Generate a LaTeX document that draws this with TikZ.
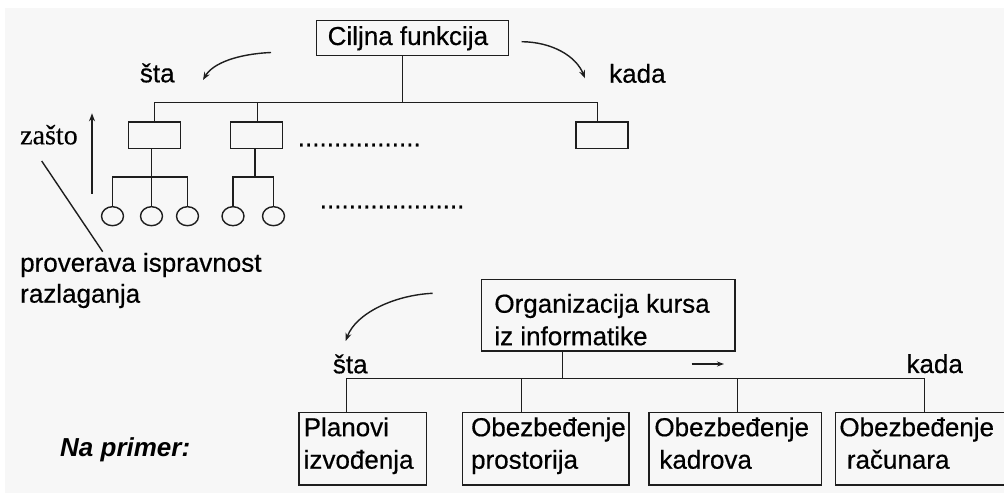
\documentclass[tikz,border=0pt]{standalone}
\usepackage{fontspec}
\setmainfont{Liberation Sans}[FakeBold=0.5]
\newfontfamily\romanfam{Liberation Serif}[FakeBold=0.3]
\newfontfamily\examplefam{Liberation Sans}
\usetikzlibrary{arrows.meta,shapes.geometric}
\definecolor{paper}{HTML}{F7F7F7}
\definecolor{ink}{HTML}{1E1E1E}
\hfuzz=60pt
\begin{document}
\begin{tikzpicture}[x=1bp,y=-1bp,
  every node/.style={font=\fontsize{26bp}{32.5bp}\selectfont, text=black},
  conn/.style={draw=ink, line width=1.4bp},
  tip/.style={-{Stealth[length=8bp,width=6bp]}},
  labbox/.style={draw=ink, line width=1.4bp, anchor=north west, inner ysep=0pt},
  minibox/.style={draw=ink, line width=1.4bp, minimum width=52bp, minimum height=26.5bp, inner sep=0pt},
  leaf/.style={ellipse, draw=ink, line width=1.4bp, minimum width=22bp, minimum height=19bp, inner sep=0pt},
  word/.style={anchor=base west, inner sep=0pt},
]
% page and background
\useasboundingbox (0,0) rectangle (1004,493);
\fill[white] (0,0) rectangle (1004,493);
\fill[paper] (5,8) rectangle (1004,493);

% ---------- general scheme ----------
\node[labbox, inner xsep=11bp, text height=24.3bp, text depth=10.7bp] (cilj) at (316,20)
  {\parbox[t]{169.7bp}{Ciljna funkcija}};

\node[minibox] (b1) at (154.2,135.3) {};
\node[minibox] (b2) at (256.5,135.3) {};
\node[minibox] (b3) at (602,135.3) {};

\node[leaf] (c1) at (112.5,216.2) {};
\node[leaf] (c2) at (151.5,216.2) {};
\node[leaf] (c3) at (187.5,216.2) {};
\node[leaf] (c4) at (233,216.2) {};
\node[leaf] (c5) at (273.5,216.2) {};

% first level tree
\coordinate (tstem) at (402.3,102.7);
\coordinate (t1) at (154.3,102.7);
\coordinate (t2) at (257.7,102.7);
\coordinate (t3) at (597.7,102.7);
\draw[conn] (tstem |- cilj.south) -- (tstem);
\draw[conn] (t1 |- b1.north) -- (t1) -- (t3) -- (t3 |- b3.north);
\draw[conn] (t2) -- (t2 |- b2.north);

% second level trees
\coordinate (lowbus) at (0,177);
\draw[conn] (c1.north) -- (c1.north |- lowbus) -- (c3.north |- lowbus) -- (c3.north);
\draw[conn] (c2.north |- b1.south) -- (c2.north);
\coordinate (s2) at (255,177);
\draw[conn] (s2 |- b2.south) -- (s2);
\draw[conn] (c4.north) -- (c4.north |- lowbus) -- (c5.north |- lowbus) -- (c5.north);

\node[word] (dots1) at (297.6,146.5) {.................};
\node[word] (dots2) at (319.6,208.5) {....................};

\node[word] (sta1) at (139.7,82.3) {šta};
\node[word] (kada1) at (609,82.7) {kada};
\coordinate (a1s) at (271,52.5);
\coordinate (a1e) at (203,80);
\draw[conn, tip] (a1s) .. controls (238,54) and (213,63) .. (a1e);
\coordinate (a2s) at (521.7,41.7);
\coordinate (a2e) at (585,78.3);
\draw[conn, tip] (a2s) .. controls (552,42) and (576,56) .. (a2e);

\node[word, font=\romanfam\fontsize{28bp}{30bp}\selectfont] (why) at (20,144.3) {zašto};
\coordinate (wa) at (92,194);
\coordinate (wb) at (92,113.3);
\draw[conn, tip] (wa) -- (wb);
\coordinate (p1) at (41.7,161);
\coordinate (p2) at (102.7,251.7);
\draw[conn] (p1) -- (p2);
\node[word] (check) at (20,271.7)
  {\parbox[t]{300bp}{\fontsize{26bp}{31bp}\selectfont proverava ispravnost\\razlaganja}};

% ---------- example ----------
\node[labbox, inner xsep=13bp, text height=33bp, text depth=38.3bp] (org) at (480.7,279)
  {\parbox[t]{227.6bp}{Organizacija kursa\\iz informatike}};

\node[labbox, inner xsep=4.7bp, text height=23.8bp, text depth=48.8bp] (plan) at (298.3,411.7)
  {\parbox[t]{118bp}{Planovi\\izvođenja}};
\node[labbox, inner xsep=8.7bp, text height=23.8bp, text depth=48.8bp] (prost) at (461.7,411.7)
  {\parbox[t]{149.2bp}{Obezbeđenje\\prostorija}};
\node[labbox, inner xsep=5.4bp, text height=23.8bp, text depth=48.8bp] (kadr) at (648.3,411.7)
  {\parbox[t]{161.6bp}{Obezbeđenje\\\hspace*{5bp}kadrova}};
\node[labbox, inner xsep=3.7bp, text height=23.8bp, text depth=48.8bp] (racun) at (835,411.7)
  {\parbox[t]{167.6bp}{Obezbeđenje\\\hspace*{7.5bp}računara}};

\coordinate (bstem) at (562.7,378.3);
\coordinate (d1) at (346.7,378.3);
\coordinate (d2) at (521.7,378.3);
\coordinate (d3) at (737.7,378.3);
\coordinate (d4) at (924.3,378.3);
\draw[conn] (bstem |- org.south) -- (bstem);
\draw[conn] (d1 |- plan.north) -- (d1) -- (d4) -- (d4 |- racun.north);
\draw[conn] (d2) -- (d2 |- prost.north);
\draw[conn] (d3) -- (d3 |- kadr.north);

\node[word] (sta2) at (332.7,373.3) {šta};
\node[word] (kada2) at (906.3,373) {kada};
\coordinate (a3s) at (432.7,293.3);
\coordinate (a3e) at (345.7,341);
\draw[conn, tip] (a3s) .. controls (395,295) and (356,313) .. (a3e);
\coordinate (a4s) at (691.7,364);
\coordinate (a4e) at (724,364);
\draw[conn, -{Stealth[length=7bp,width=5bp]}] (a4s) -- (a4e);

\node[word, font=\examplefam\bfseries\itshape\fontsize{26bp}{30bp}\selectfont] (eg) at (60,456.7) {Na primer:};
\end{tikzpicture}
\end{document}
